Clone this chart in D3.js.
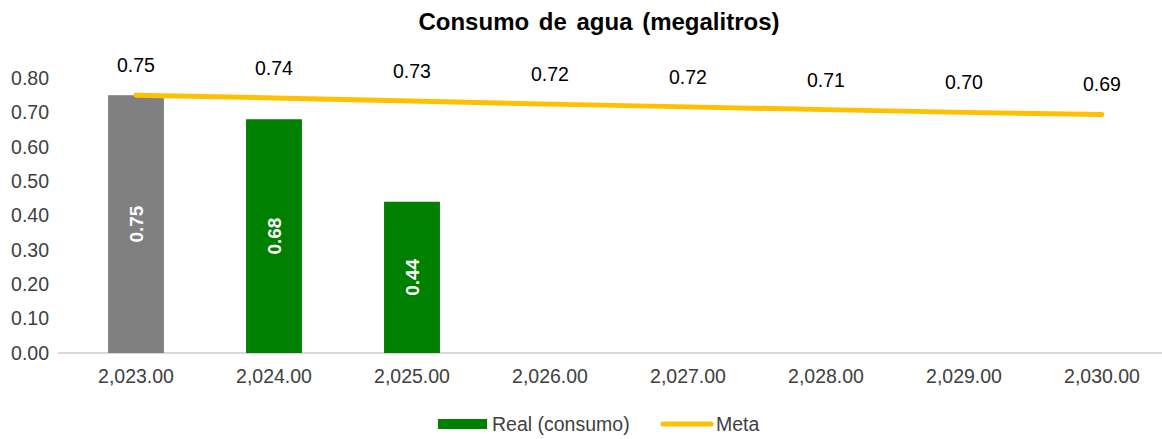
<!DOCTYPE html>
<html>
<head>
<meta charset="utf-8">
<script src="https://cdn.jsdelivr.net/npm/d3@7"></script>
<style>
  body { margin: 0; background: #fff; }
  text { font-family: "Liberation Sans", Arial, sans-serif; }
</style>
</head>
<body>
<svg id="chart" width="1162" height="439"></svg>
<script>
var years = [2023, 2024, 2025, 2026, 2027, 2028, 2029, 2030];
var real = [0.75, 0.68, 0.44, null, null, null, null, null];
var realColors = ['#808080', '#008000', '#008000'];
var meta = [0.750, 0.742, 0.733, 0.724, 0.716, 0.708, 0.700, 0.694];
var yTicks = [0, 0.1, 0.2, 0.3, 0.4, 0.5, 0.6, 0.7, 0.8];

var svg = d3.select('#chart');

var x = d3.scaleBand().domain(years).range([67, 1171]).paddingInner(0.595).paddingOuter(0.2975);
var y = d3.scaleLinear().domain([0, 0.8]).range([353, 78]);
var fmtX = d3.format(',.2f');
var fmt = d3.format('.2f');

// title
svg.append('text')
   .attr('x', 599).attr('y', 30)
   .attr('text-anchor', 'middle')
   .style('font-size', '24px').style('font-weight', 'bold').style('fill', '#000')
   .style('word-spacing', '3px')
   .text('Consumo de agua (megalitros)');

// y axis labels
var yAxis = svg.append('g')
   .attr('transform', 'translate(49,0)')
   .call(d3.axisLeft(y).tickValues(yTicks).tickFormat(fmt).tickSize(0).tickPadding(0));
yAxis.select('.domain').remove();
yAxis.selectAll('text').style('font-size', '19.5px').style('fill', '#404040');

// x axis
var xAxis = svg.append('g')
   .attr('transform', 'translate(0,353)')
   .call(d3.axisBottom(x).tickFormat(fmtX).tickSize(0).tickPadding(16));
xAxis.select('.domain').attr('d', 'M58,0H1162').style('stroke', '#d9d9d9').style('stroke-width', 2);
xAxis.selectAll('text').style('font-size', '19.5px').style('fill', '#404040');

// bars
var barData = years.map(function(d, i){ return {year : d, v : real[i], i : i}; })
                   .filter(function(d){ return d.v != null; });

svg.selectAll('.bar')
   .data(barData)
   .enter()
   .append('rect')
   .classed('bar', true)
   .attr('x', function(d){ return x(d.year); })
   .attr('width', x.bandwidth())
   .attr('y', function(d){ return y(d.v); })
   .attr('height', function(d){ return y(0) - y(d.v); })
   .style('fill', function(d){ return realColors[d.i]; });

svg.selectAll('.barLabel')
   .data(barData)
   .enter()
   .append('text')
   .classed('barLabel', true)
   .attr('transform', function(d){
      var cx = x(d.year) + x.bandwidth() / 2;
      var cy = (y(d.v) + y(0)) / 2;
      return 'translate(' + cx + ',' + cy + ') rotate(-90)';
   })
   .attr('text-anchor', 'middle')
   .attr('dy', '0.35em')
   .style('font-size', '19px').style('font-weight', 'bold').style('fill', '#fff')
   .text(function(d){ return fmt(d.v); });

// meta line
var line = d3.line()
   .x(function(d, i){ return x(years[i]) + x.bandwidth() / 2; })
   .y(function(d){ return y(d); });

svg.append('path')
   .datum(meta)
   .attr('d', line)
   .style('fill', 'none').style('stroke', '#ffc000')
   .style('stroke-width', 5).style('stroke-linecap', 'round');

svg.selectAll('.metaLabel')
   .data(meta)
   .enter()
   .append('text')
   .classed('metaLabel', true)
   .attr('x', function(d, i){ return x(years[i]) + x.bandwidth() / 2; })
   .attr('y', function(d){ return y(d) - 23; })
   .attr('text-anchor', 'middle')
   .style('font-size', '19.5px').style('fill', '#000')
   .text(function(d){ return fmt(d); });

// legend
var legend = svg.append('g').attr('transform', 'translate(0,424)');
legend.append('rect').attr('x', 438).attr('y', -5).attr('width', 49).attr('height', 10).style('fill', '#008000');
legend.append('text').attr('x', 492).attr('y', 0).attr('dy', '0.35em')
      .style('font-size', '19.5px').style('fill', '#404040').text('Real (consumo)');
legend.append('line').attr('x1', 663).attr('x2', 711).attr('y1', 0).attr('y2', 0)
      .style('stroke', '#ffc000').style('stroke-width', 5).style('stroke-linecap', 'round');
legend.append('text').attr('x', 716).attr('y', 0).attr('dy', '0.35em')
      .style('font-size', '19.5px').style('fill', '#404040').text('Meta');
</script>
</body>
</html>
